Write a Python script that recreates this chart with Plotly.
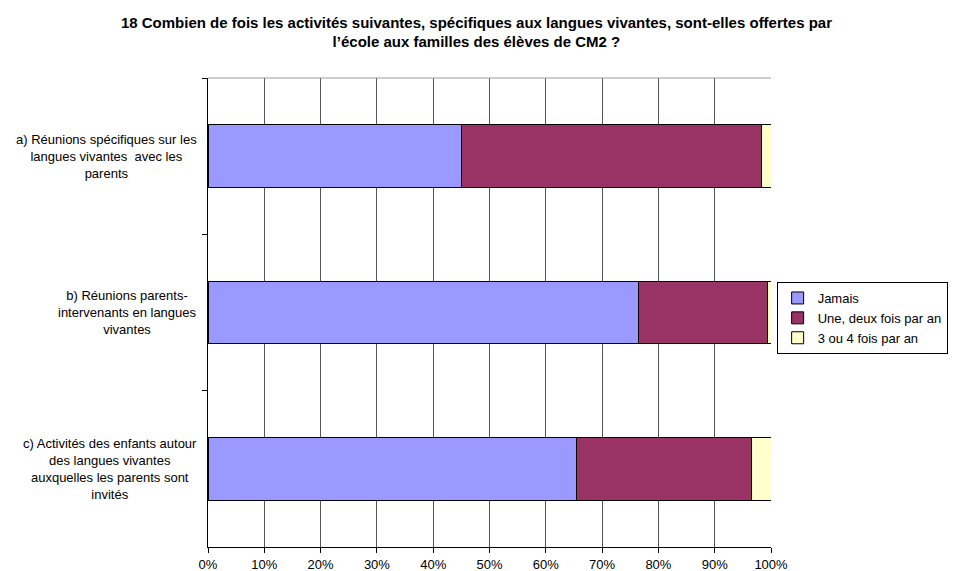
import plotly.graph_objects as go

# Data for the chart
categories = [
    "a) Réunions spécifiques sur les<br>langues vivantes  avec les<br>parents",
    "b) Réunions parents-<br>intervenants en langues<br>vivantes",
    "c) Activités des enfants autour<br>des langues vivantes<br>auxquelles les parents sont<br>invités",
]
jamais = [45.1, 76.5, 65.5]
une_deux = [53.2, 22.8, 31.1]
trois_quatre = [1.7, 0.7, 3.4]
x_ticks = [0, 10, 20, 30, 40, 50, 60, 70, 80, 90, 100]

series = [
    ("Jamais", jamais, "#9999FF"),
    ("Une, deux fois par an", une_deux, "#993366"),
    ("3 ou 4 fois par an", trois_quatre, "#FFFFCC"),
]

fig = go.Figure()
for name, vals, color in series:
    fig.add_trace(go.Bar(
        y=categories,
        x=vals,
        name=name,
        orientation="h",
        marker=dict(color=color, line=dict(color="black", width=1)),
    ))

# Category labels, centred like the original (right edge near the axis)
for cat in categories:
    fig.add_annotation(
        text=cat, x=-0.016, xref="paper", y=cat, yref="y",
        xanchor="right", yanchor="middle", align="center",
        showarrow=False, font=dict(size=13),
    )

# thin grey border on top of the plot area
fig.add_shape(type="line", xref="paper", yref="paper", x0=0, x1=1, y0=1, y1=1,
              line=dict(color="#9a9a9a", width=1))

# note: the page body adds an 8px offset, margins are set with that in mind
fig.update_layout(
    barmode="stack",
    bargap=0.6,
    width=956,
    height=571,
    margin=dict(l=200, r=193, t=70, b=32, autoexpand=False),
    paper_bgcolor="white",
    plot_bgcolor="white",
    font=dict(family="Liberation Sans, Arial", size=13, color="black"),
    title=dict(
        text="<b>18 Combien de fois les activités suivantes, spécifiques aux langues vivantes, sont-elles offertes par<br>l’école aux familles des élèves de CM2 ?</b>",
        x=0.49, xanchor="center", y=0.965, yanchor="top",
        font=dict(size=15),
    ),
    xaxis=dict(
        range=[0, 100],
        tickvals=x_ticks,
        ticktext=[f"{v}%" for v in x_ticks],
        showgrid=True, gridcolor="#555555", gridwidth=1,
        showline=True, linecolor="black", linewidth=1,
        ticks="outside", ticklen=5, tickcolor="black",
        zeroline=False, automargin=False,
    ),
    yaxis=dict(
        autorange="reversed",
        showline=True, linecolor="black", linewidth=1,
        ticks="outside", ticklen=5, tickcolor="black",
        tickson="boundaries", showgrid=False,
        showticklabels=False, automargin=False,
    ),
    legend=dict(
        x=1.01, xanchor="left", y=0.565, yanchor="top",
        bordercolor="black", borderwidth=1,
        font=dict(size=13),
        traceorder="normal",
        itemwidth=30,
        tracegroupgap=0,
    ),
)

fig.write_html("out.html")
